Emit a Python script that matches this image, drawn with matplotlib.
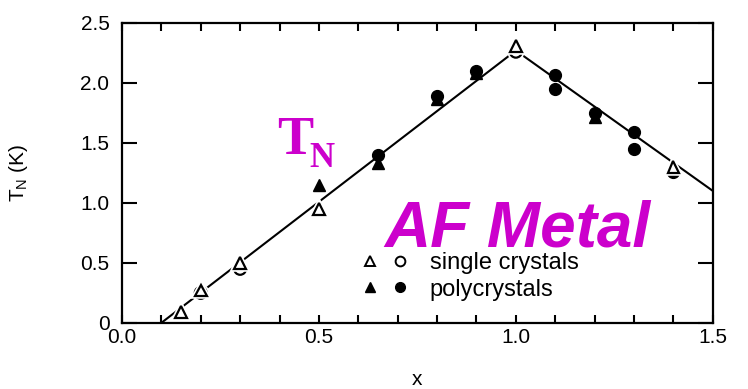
import matplotlib
matplotlib.use("Agg")
import matplotlib.pyplot as plt
import matplotlib.patheffects as pe
from matplotlib.lines import Line2D
from matplotlib.legend_handler import HandlerTuple
from matplotlib.ticker import MultipleLocator

plt.rcParams["font.family"] = ["Liberation Sans", "DejaVu Sans"]

# --- Neel temperature vs x ---------------------------------------------
# single crystals (open symbols)
sc_tri_x = [0.15, 0.20, 0.30, 0.50, 1.00, 1.40]
sc_tri_y = [0.09, 0.27, 0.50, 0.95, 2.31, 1.30]
sc_circ_x = [0.20, 0.30, 1.00]
sc_circ_y = [0.25, 0.45, 2.26]

# polycrystals (filled symbols)
pc_tri_x = [0.50, 0.65, 0.80, 0.90, 1.20]
pc_tri_y = [1.15, 1.33, 1.87, 2.08, 1.72]
pc_circ_x = [0.65, 0.80, 0.90, 1.10, 1.10, 1.20, 1.30, 1.30, 1.40]
pc_circ_y = [1.40, 1.89, 2.10, 2.07, 1.95, 1.75, 1.59, 1.45, 1.26]

# guide line: linear rise to the peak, then linear fall
guide_x = [0.10, 1.00, 1.50]
guide_y = [0.00, 2.27, 1.10]

xticks = [0.0, 0.5, 1.0, 1.5]
xtick_labels = ["0.0", "0.5", "1.0", "1.5"]
yticks = [0.0, 0.5, 1.0, 1.5, 2.0, 2.5]
ytick_labels = ["0", "0.5", "1.0", "1.5", "2.0", "2.5"]

magenta = "#cc00cc"

fig = plt.figure(figsize=(7.48, 3.89), dpi=100)
ax = fig.add_axes([0.163, 0.170, 0.790, 0.771])

ax.plot(guide_x, guide_y, color="black", lw=1.5, zorder=2)

ms = 8.5
ax.plot(pc_tri_x, pc_tri_y, "^", color="black", ms=ms, zorder=3)
ax.plot(pc_circ_x, pc_circ_y, "o", color="black", ms=ms, zorder=3)
halo = [pe.withStroke(linewidth=4, foreground="white")]
ax.plot(sc_circ_x, sc_circ_y, "o", mfc="white", mec="black", mew=1.6,
        ms=ms, zorder=4, path_effects=halo)
ax.plot(sc_tri_x, sc_tri_y, "^", mfc="white", mec="black", mew=1.6,
        ms=ms, zorder=4, path_effects=halo)

ax.set_xlim(0, 1.5)
ax.set_ylim(0, 2.5)
ax.set_xticks(xticks)
ax.set_xticklabels(xtick_labels)
ax.xaxis.set_minor_locator(MultipleLocator(0.1))
ax.set_yticks(yticks)
ax.set_yticklabels(ytick_labels)

ax.tick_params(axis="x", which="both", direction="in", top=True,
               length=6, width=1.5, labelsize=15, pad=4)
ax.tick_params(axis="y", which="both", direction="in", right=True,
               length=11, width=1.5, labelsize=15, pad=9)
for s in ax.spines.values():
    s.set_linewidth(1.6)

ax.set_xlabel("x", fontsize=15, labelpad=16)
ax.set_ylabel(r"T$_\mathregular{N}$ (K)", fontsize=15, labelpad=36)

# legend: pairs of triangle + circle symbols
h_single = (Line2D([], [], ls="none", marker="^", mfc="white", mec="black", mew=1.4, ms=7),
            Line2D([], [], ls="none", marker="o", mfc="white", mec="black", mew=1.4, ms=7))
h_poly = (Line2D([], [], ls="none", marker="^", color="black", ms=7),
          Line2D([], [], ls="none", marker="o", color="black", ms=7))
ax.legend([h_single, h_poly], ["single crystals", "polycrystals"],
          handler_map={tuple: HandlerTuple(ndivide=None, pad=0.6)},
          loc="center left", bbox_to_anchor=(0.405, 0.155), frameon=False,
          fontsize=17, handlelength=2.0, handletextpad=0.9,
          labelspacing=0.2, borderpad=0, borderaxespad=0)

# magenta annotations
ax.text(0.393, 1.41, "T", color=magenta, fontsize=39, fontweight="bold",
        family="Liberation Serif", ha="left", va="baseline")
ax.text(0.477, 1.30, "N", color=magenta, fontsize=25, fontweight="bold",
        family="Liberation Serif", ha="left", va="baseline")
ax.text(0.667, 0.64, "AF Metal", color=magenta, fontsize=46,
        fontweight="bold", fontstyle="italic", ha="left", va="baseline")

fig.savefig("out.png", dpi=100)
